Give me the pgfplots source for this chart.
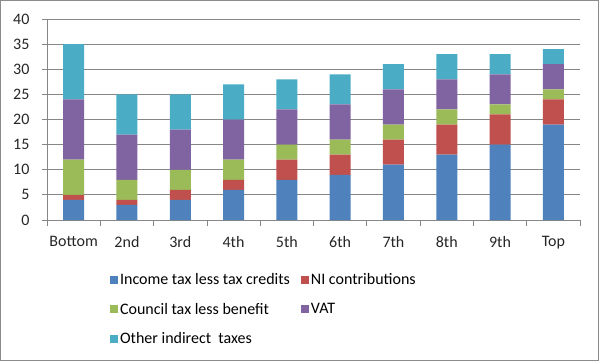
\documentclass[border=0pt]{standalone}
\usepackage{pgfplots}
\pgfplotsset{compat=1.18}
\usepackage{fontspec}
\setmainfont{Carlito}
\definecolor{cIncome}{HTML}{4F81BD}
\definecolor{cNI}{HTML}{C0504D}
\definecolor{cCouncil}{HTML}{9BBB59}
\definecolor{cVAT}{HTML}{8064A2}
\definecolor{cOther}{HTML}{4BACC6}
\definecolor{cGrid}{HTML}{868686}
\definecolor{cFrame}{HTML}{8C8C8C}
\begin{document}
\begin{tikzpicture}
\useasboundingbox (-47pt,-141pt) rectangle (552pt,220pt);
\draw[cFrame, line width=1.5pt] (-46.25pt,-140.25pt) rectangle (551.25pt,219.25pt);
\begin{axis}[
  at={(0pt,0pt)}, anchor=south west,
  scale only axis, width=533pt, height=201pt,
  ybar stacked, bar width=21pt,
  xmin=-0.5, xmax=9.5, ymin=0, ymax=40,
  ytick={0,5,...,40},
  xtick={0,...,9},
  xticklabels={Bottom,2nd,3rd,4th,5th,6th,7th,8th,9th,Top},
  minor xtick={-0.5,0.5,...,9.5},
  major x tick style={draw=none},
  minor x tick style={cGrid, line width=0.8pt},
  minor tick length=6pt,
  major tick length=5pt,
  tick align=outside,
  xtick pos=bottom, ytick pos=left,
  y tick style={cGrid, line width=0.8pt},
  axis lines*=left,
  axis line style={cGrid, line width=0.8pt},
  ymajorgrids, grid style={cGrid, line width=0.8pt},
  tick label style={font=\fontsize{16}{19}\selectfont, text=black!85},
  yticklabel style={xshift=-9pt},
  xticklabel style={yshift=-8pt},
  /pgf/number format/assume math mode=true,
  legend columns=2,
  legend cell align=left,
  legend style={draw=none, fill=none, font=\fontsize{16}{19}\selectfont,
    at={(axis description cs:0.118,-0.255)}, anchor=north west,
    /tikz/every even column/.append style={column sep=9pt},
    row sep=13pt, inner sep=0pt},
  legend image code/.code={\fill[#1] (0pt,-4pt) rectangle (8pt,4pt);},
]
\addplot+[fill=cIncome, draw=none] coordinates {(0,4) (1,3) (2,4) (3,6) (4,8) (5,9) (6,11) (7,13) (8,15) (9,19)};
\addplot+[fill=cNI, draw=none] coordinates {(0,1) (1,1) (2,2) (3,2) (4,4) (5,4) (6,5) (7,6) (8,6) (9,5)};
\addplot+[fill=cCouncil, draw=none] coordinates {(0,7) (1,4) (2,4) (3,4) (4,3) (5,3) (6,3) (7,3) (8,2) (9,2)};
\addplot+[fill=cVAT, draw=none] coordinates {(0,12) (1,9) (2,8) (3,8) (4,7) (5,7) (6,7) (7,6) (8,6) (9,5)};
\addplot+[fill=cOther, draw=none] coordinates {(0,11) (1,8) (2,7) (3,7) (4,6) (5,6) (6,5) (7,5) (8,4) (9,3)};
\legend{Income tax less tax credits, NI contributions, Council tax less benefit, VAT, Other indirect\ \ taxes}
\end{axis}
\end{tikzpicture}
\end{document}
